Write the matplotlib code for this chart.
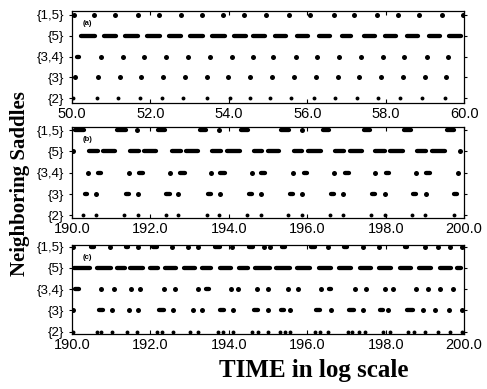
import matplotlib
matplotlib.use("Agg")
import matplotlib.pyplot as plt
from matplotlib.ticker import FormatStrFormatter

# row labels, bottom to top
row_labels = ["{2}", "{3}", "{3,4}", "{5}", "{1,5}"]

# each row: list of dwell intervals (start, end) or single instants (dots)
# panel (a), t = 50..60
a_2 = [50.03, 50.63, 51.18, 51.73, 52.29, 52.84, 53.44, 54.03, 54.54, 55.05,
       55.59, 56.16, 56.71, 57.26, 57.81, 58.37, 58.92, 59.52]
a_3 = [50.08, 50.65, 51.21, 51.76, 52.33, 52.88, 53.44, 53.99, 54.54, 55.09,
       55.67, 56.22, 56.78, 57.33, 57.88, 58.43, 58.99, 59.54]
a_34 = [(50.06, 50.22), 50.73, 51.29, 51.84, 52.40, 52.95, 53.52, 54.07, 54.61,
        55.13, 55.70, 56.25, 56.81, 57.37, 57.92, 58.47, 59.05, 59.60]
a_5 = [(50.18, 50.64), (50.77, 51.17), (51.30, 51.73), (51.86, 52.30), (52.42, 52.83),
       (52.96, 53.39), (53.52, 53.95), (54.08, 54.49), (54.57, 54.97), (55.13, 55.51),
       (55.69, 56.07), (56.25, 56.63), (56.84, 57.17), (57.40, 57.78), (57.93, 58.32),
       (58.49, 58.88), (59.06, 59.44), (59.57, 59.97)]
a_15 = [(50.0, 50.08), (50.51, 50.63), (51.04, 51.16), (51.62, 51.74), (52.16, 52.28),
        (52.71, 52.83), (53.26, 53.38), (53.80, 53.92), (54.33, 54.45), (54.88, 55.0),
        (55.48, 55.6), (56.01, 56.13), (56.6, 56.74), (57.14, 57.26), (57.71, 57.83),
        (58.26, 58.38), (58.8, 58.92), (59.37, 59.49), (59.93, 60.0)]

# panel (b), t = 190..200
b_2 = [190.27, 190.61, 191.33, 191.68, 192.40, 192.71, 193.43, 193.75, 194.47, 194.82,
       195.52, 195.86, 196.58, 196.92, 197.63, 197.97, 198.67, 199.01, 199.73]
b_3 = [(190.27, 190.44), 190.61, (191.33, 191.50), 191.68, (192.35, 192.54), 192.71,
       (193.41, 193.59), 193.78, (194.46, 194.64), 194.82, (195.50, 195.69), 195.86,
       (196.54, 196.73), 196.92, (197.60, 197.78), 197.97, (198.64, 198.83), 199.03,
       (199.69, 199.87)]
b_34 = [190.41, (190.61, 190.80), 191.44, (191.65, 191.86), 192.50, (192.71, 192.93),
        193.54, (193.73, 193.95), 194.58, (194.77, 194.97), 195.64, (195.86, 196.05),
        196.67, (196.91, 197.11), 197.73, (197.94, 198.15), 198.78, (198.98, 199.18),
        199.84]
b_5 = [190.02, (190.38, 190.71), (190.74, 191.15), (191.43, 191.76), (191.79, 192.19),
       (192.50, 192.83), (192.86, 193.27), (193.52, 193.85), (193.90, 194.34),
       (194.59, 194.90), (194.95, 195.33), (195.61, 195.92), (195.97, 196.40),
       (196.66, 196.99), (197.04, 197.45), (197.68, 198.04), (198.06, 198.50),
       (198.75, 199.08), (199.13, 199.57), 199.90]
b_15 = [(190.03, 190.36), (191.10, 191.43), 191.66, (192.14, 192.42), (193.21, 193.47),
        193.75, (194.26, 194.54), (195.28, 195.59), 195.87, (196.35, 196.61),
        (197.40, 197.65), (198.42, 198.70), (199.52, 199.80)]

# panel (c), t = 190..200
c_2 = [190.03, 190.64, 190.75, 191.01, 191.39, 191.65, 192.16, 192.29, 192.58, 193.01,
       193.22, 193.73, 193.86, 194.10, 194.58, 194.75, 195.01, 195.31, 195.44, 195.57,
       196.20, 196.33, 196.54, 197.05, 197.15, 197.31, 197.48, 197.94, 198.11, 198.58,
       198.71, 198.99, 199.33, 199.64, 199.94]
c_3 = [190.03, (190.63, 190.84), 191.01, (191.39, 191.52), 191.69, (192.16, 192.41),
       192.58, (193.01, 193.14), 193.31, (193.73, 193.94), 194.10, (194.58, 194.80),
       194.99, (195.28, 195.46), 195.57, (196.16, 196.38), 196.60, (197.01, 197.25),
       197.41, (197.81, 197.98), 198.07, (198.50, 198.75), 198.94, 199.27, 199.61, 199.94]
c_34 = [(190.03, 190.23), 190.75, 191.07, 191.51, (191.66, 191.78), 192.35, 192.63,
        193.21, (193.37, 193.55), 194.06, (194.18, 194.31), 194.72, (194.92, 195.05),
        195.51, (195.69, 195.82), 196.35, (196.50, 196.66), 197.22, 197.50, 197.98,
        (198.11, 198.24), 198.78, 199.09, 199.39, 199.72]
c_5 = [(190.00, 190.51), (190.59, 191.05), (191.10, 191.40), (191.43, 191.86),
       (191.94, 192.24), (192.32, 192.70), (192.81, 193.19), (193.27, 193.60),
       (193.72, 194.11), (194.21, 194.54), (194.62, 195.10), (195.15, 195.61),
       (195.69, 196.12), (196.25, 196.66), (196.76, 197.17), (197.30, 197.68),
       (197.78, 198.19), (198.32, 198.70), (198.80, 199.21), (199.34, 199.72),
       (199.77, 199.97)]
c_15 = [190.03, (190.44, 190.61), 190.97, (191.31, 191.48), 191.67, (192.01, 192.22),
        192.54, (192.88, 193.01), 193.22, (193.60, 193.82), 194.07, (194.46, 194.67),
        194.90, 195.05, (195.31, 195.48), (196.03, 196.24), 196.52, (196.89, 197.06),
        197.43, (197.77, 197.91), (198.45, 198.60), 198.99, 199.33, 199.64, 199.94]

panels = [
    ("(a)", (50, 60), [a_2, a_3, a_34, a_5, a_15]),
    ("(b)", (190, 200), [b_2, b_3, b_34, b_5, b_15]),
    ("(c)", (190, 200), [c_2, c_3, c_34, c_5, c_15]),
]

plt.rcParams["font.family"] = ["Liberation Sans", "DejaVu Sans"]

DPI = 100
fig = plt.figure(figsize=(4.87, 3.89), dpi=DPI)
boxes = [[0.148, 0.735, 0.805, 0.237],
         [0.148, 0.440, 0.805, 0.234],
         [0.148, 0.141, 0.805, 0.229]]
ylims = [(-0.23, 4.19), (-0.12, 4.16), (-0.12, 4.08)]

for box, ylim, (tag, xr, rows) in zip(boxes, ylims, panels):
    ax = fig.add_axes(box)
    # pixels per time unit, used to pull round caps back inside each interval
    px_per_unit = box[2] * fig.get_figwidth() * DPI / (xr[1] - xr[0])
    for y, row in enumerate(rows):
        lw = 2.3 if y == 0 else 3.1
        cap = (lw * DPI / 72 / 2) / px_per_unit
        dots = [v for v in row if not isinstance(v, tuple)]
        segs = []
        for v in row:
            if isinstance(v, tuple):
                s, e = v[0] + cap, v[1] - cap
                if e - s < 1.5 / px_per_unit:
                    dots.append(0.5 * (v[0] + v[1]))
                else:
                    segs.append((s, e))
        if segs:
            lc = ax.hlines([y] * len(segs), [s[0] for s in segs], [s[1] for s in segs],
                           colors="black", linewidth=lw)
            lc.set_capstyle("round")
        if dots:
            ax.plot(dots, [y] * len(dots), "o", color="black",
                    ms=lw + 0.5, mew=0)
    ax.set_xlim(*xr)
    ax.set_ylim(*ylim)
    ax.set_xticks(range(xr[0], xr[1] + 1, 2))
    ax.xaxis.set_major_formatter(FormatStrFormatter("%.1f"))
    ax.set_yticks(range(5))
    ax.set_yticklabels(row_labels, fontsize=9.5)
    ax.tick_params(axis="x", direction="in", length=3, top=True, labelsize=10.5, pad=3)
    ax.tick_params(axis="y", direction="out", length=2.5, right=True, pad=3)
    for sp in ax.spines.values():
        sp.set_linewidth(0.9)
    ax.text(0.028, 0.86, tag, transform=ax.transAxes, fontsize=5.5,
            fontweight="bold", va="center", ha="left")

fig.text(0.041, 0.527, "Neighboring Saddles", rotation=90, ha="center", va="center",
         fontsize=15, fontweight="bold", family="Liberation Serif")
fig.text(0.645, 0.047, "TIME in log scale", ha="center", va="center",
         fontsize=18, fontweight="bold", family="Liberation Serif")

fig.savefig("out.png", dpi=DPI)
